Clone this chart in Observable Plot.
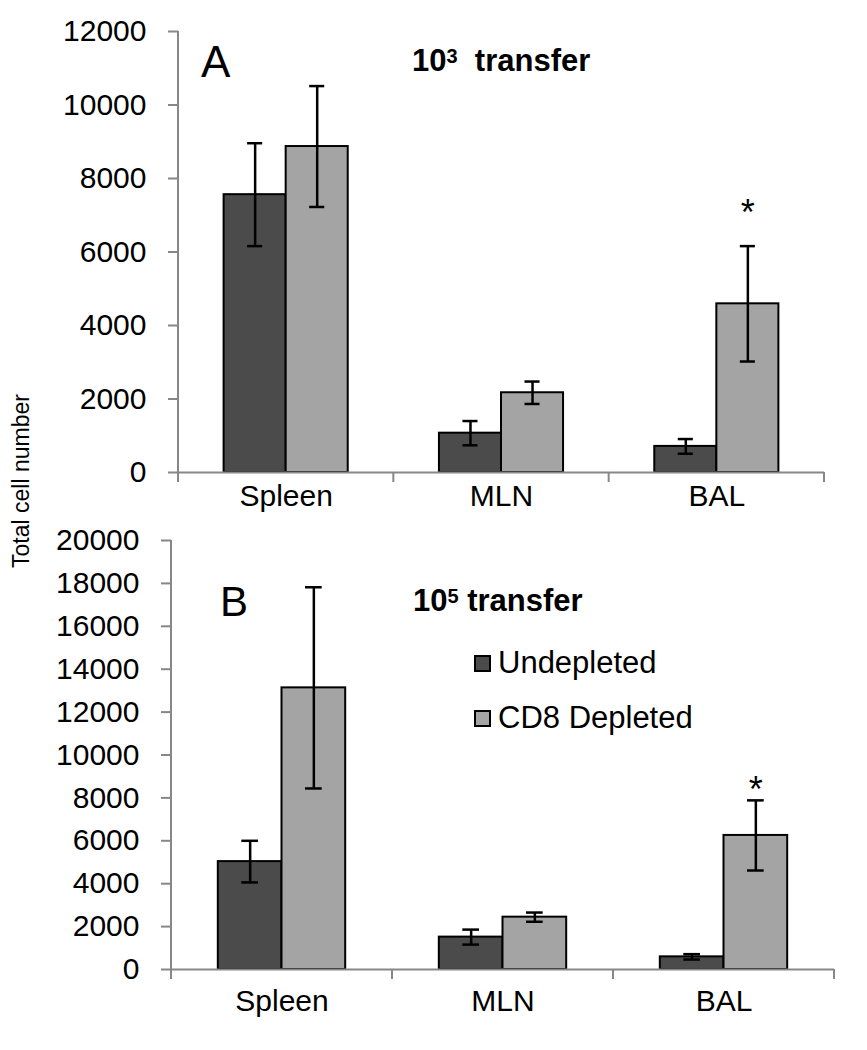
<!DOCTYPE html>
<html>
<head>
<meta charset="utf-8">
<script src="https://cdn.jsdelivr.net/npm/d3@7"></script>
<script src="https://cdn.jsdelivr.net/npm/@observablehq/plot@0.6"></script>
<style>
html,body{margin:0;padding:0;background:#fff;}
#page{position:relative;width:867px;height:1050px;overflow:hidden;font-family:"Liberation Sans",Arial,Helvetica,sans-serif;color:#000;}
#page svg{position:absolute;left:0;}
.t{position:absolute;white-space:nowrap;line-height:0;width:max-content;}
.sup{position:relative;font-size:20px;top:-8px;}
.sw{position:absolute;box-sizing:border-box;border:2px solid #000;width:17px;height:17px;}
</style>
</head>
<body>
<div id="page"></div>
<script>
// ---------- data ----------
const categories = ["Spleen", "MLN", "BAL"];
const groups = ["Undepleted", "CD8 Depleted"];
const groupColors = ["#4b4b4b", "#a4a4a4"];

// Panel A: 10^3 transfer
const aUndepleted    = [7560, 1070, 710];
const aUndepletedErr = [1400, 330, 200];
const aDepleted      = [8870, 2170, 4590];
const aDepletedErr   = [1645, 305, 1570];
const aTicks = [0, 2000, 4000, 6000, 8000, 10000, 12000];
const aStars = [{cat: "BAL", group: "CD8 Depleted", y: 7050}];

// Panel B: 10^5 transfer
const bUndepleted    = [5030, 1510, 590];
const bUndepletedErr = [970, 350, 125];
const bDepleted      = [13130, 2440, 6250];
const bDepletedErr   = [4690, 215, 1635];
const bTicks = [0, 2000, 4000, 6000, 8000, 10000, 12000, 14000, 16000, 18000, 20000];
const bStars = [{cat: "BAL", group: "CD8 Depleted", y: 8350}];

const yLabel = "Total cell number";

// ---------- helpers ----------
const page = document.getElementById("page");
const axisGray = "#878787";

function rowsOf(und, undErr, dep, depErr) {
  return categories.flatMap((c, i) => [
    {cat: c, group: groups[0], value: und[i], err: undErr[i]},
    {cat: c, group: groups[1], value: dep[i], err: depErr[i]}
  ]);
}

function panel(rows, ticks, stars, L) {
  const yMax = ticks[ticks.length - 1];
  const chart = Plot.plot({
    width: 867, height: L.height,
    marginTop: L.marginTop, marginBottom: L.marginBottom,
    marginLeft: L.marginLeft, marginRight: L.marginRight,
    style: {background: "transparent", fontFamily: "'Liberation Sans', Arial, sans-serif", fontSize: "30px", color: "#000"},
    fx: {domain: categories, paddingInner: 0, paddingOuter: 0, round: false, label: null},
    x: {domain: groups, paddingInner: 0, paddingOuter: 0.735, round: false, axis: null},
    y: {domain: [0, yMax]},
    color: {domain: groups, range: groupColors},
    marks: [
      Plot.barY(rows, {fx: "cat", x: "group", y: "value", fill: "group", stroke: "#000", strokeWidth: 2}),
      Plot.ruleX(rows, {fx: "cat", x: "group", y1: d => d.value - d.err, y2: d => d.value + d.err, stroke: "#000", strokeWidth: 2.5}),
      Plot.tickY(rows, {fx: "cat", x: "group", y: d => d.value + d.err, stroke: "#000", strokeWidth: 2.5, insetLeft: 23.5, insetRight: 23.5}),
      Plot.tickY(rows, {fx: "cat", x: "group", y: d => d.value - d.err, stroke: "#000", strokeWidth: 2.5, insetLeft: 23.5, insetRight: 23.5}),
      Plot.text(stars, {fx: "cat", x: "group", y: "y", text: () => "*", fontSize: 36, fill: "#000"}),
      Plot.ruleY([0], {stroke: axisGray, strokeWidth: 2}),
      Plot.axisY({ticks, tickSize: 10, tickPadding: 22, tickFormat: d3.format("d"), stroke: axisGray, strokeWidth: 2, fill: "#000", label: null}),
      Plot.axisFx({anchor: "bottom", tickSize: 0, tickPadding: L.labelPad, fill: "#000", label: null})
    ]
  });
  // axis line and category boundary ticks, from the plot's own scales
  const fx = chart.scale("fx"), y = chart.scale("y");
  const y0 = y.apply(0), yTop = y.apply(yMax);
  const bounds = categories.map(c => fx.apply(c)).concat([fx.range[1]]);
  const g = d3.select(chart).append("g").attr("stroke", axisGray).attr("stroke-width", 2);
  g.append("line").attr("x1", bounds[0]).attr("x2", bounds[0]).attr("y1", yTop).attr("y2", y0);
  g.selectAll("line.b").data(bounds).join("line").attr("class", "b")
    .attr("x1", d => d).attr("x2", d => d).attr("y1", y0).attr("y2", y0 + 10);
  chart.style.top = L.top + "px";
  page.appendChild(chart);
  return chart;
}

function place(html, x, baseline, size, weight) {
  const d = document.createElement("div");
  d.className = "t";
  d.innerHTML = html;
  d.style.left = x + "px";
  d.style.top = (baseline - 0.3465 * size) + "px";
  d.style.fontSize = size + "px";
  if (weight) d.style.fontWeight = weight;
  page.appendChild(d);
  return d;
}

// ---------- charts ----------
panel(rowsOf(aUndepleted, aUndepletedErr, aDepleted, aDepletedErr), aTicks, aStars,
  {top: 0, height: 520, marginTop: 31, marginBottom: 48, marginLeft: 178, marginRight: 43, labelPad: 12});
panel(rowsOf(bUndepleted, bUndepletedErr, bDepleted, bDepletedErr), bTicks, bStars,
  {top: 515, height: 535, marginTop: 25, marginBottom: 81, marginLeft: 171, marginRight: 33, labelPad: 20});

// ---------- annotations ----------
place("A", 201, 77, 44);
place("10<span class='sup'>3</span>&nbsp; transfer", 412, 72, 31, "bold");
place("B", 220, 617, 42);
place("10<span class='sup'>5</span>&nbsp;transfer", 413, 612, 31, "bold");

// legend
groups.forEach((gname, i) => {
  const s = document.createElement("div");
  s.className = "sw";
  s.style.left = "474px";
  s.style.top = (655 + i * 55) + "px";
  s.style.background = groupColors[i];
  page.appendChild(s);
  place(gname, 498, 674 + i * 55, 31);
});

// y label (shared)
const yl = place(yLabel, 21, 0, 23);
yl.style.top = "481px";
yl.style.transformOrigin = "0 0";
yl.style.transform = "rotate(-90deg) translateX(-50%)";
</script>
</body>
</html>
